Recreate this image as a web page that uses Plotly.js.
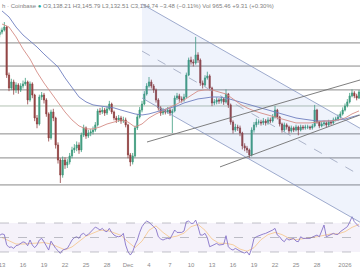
<!DOCTYPE html>
<html><head><meta charset="utf-8">
<script src="https://cdn.plot.ly/plotly-3.0.1.min.js"></script>
<style>html,body{margin:0;padding:0;background:#fff}#c{width:360px;height:270px}</style>
</head><body><div id="c"></div>
<script>
// 8-hour candles, first candle 2025-11-12 16:00 UTC
var firstOpen = 3460;
var closes = [3475,3486,3503,3231,3158,3192,3147,3175,3147,3169,3181,3192,3090,3181,3118,2988,2954,3107,3118,3090,3011,2875,3022,2988,2835,2750,2665,2750,2722,2739,2773,2807,2818,2835,2807,2892,2932,2886,2903,2909,2920,2949,3028,3022,3033,3016,3039,3067,3022,2988,2977,2988,2971,2977,2949,2779,2739,2773,2932,2994,3033,3067,3124,3169,3192,3169,3147,3090,3045,3016,3028,3022,3033,3016,3028,3101,3113,3096,3090,3107,3231,3316,3305,3299,3345,3316,3186,3175,3215,3226,3158,3073,3079,3090,3084,3096,3079,3124,3062,2965,2920,2937,2932,2903,2830,2818,2807,2779,2920,2949,2965,2965,2960,2971,2960,2977,2971,2994,3033,2994,2954,2920,2949,2937,2915,2932,2920,2937,2920,2937,2932,2937,2937,2932,2943,3033,2965,2943,2954,2960,2949,2965,2960,2977,2982,2994,3011,3033,3056,3079,3113,3130,3113,3101,3135];
var highs = [3495,3500,3531,3510,3245,3210,3205,3190,3185,3185,3200,3215,3200,3195,3190,3125,3005,3120,3135,3130,3100,3020,3035,3040,2995,2850,2760,2770,2765,2755,2790,2825,2840,2855,2850,2905,2950,2940,2920,2925,2940,2965,3040,3045,3050,3045,3055,3085,3075,3030,3000,3005,3000,2995,2990,2955,2790,2790,2945,3010,3050,3085,3140,3185,3220,3205,3180,3155,3100,3055,3045,3040,3050,3045,3040,3115,3130,3125,3110,3125,3245,3330,3335,3320,3447,3360,3325,3200,3230,3250,3235,3165,3095,3105,3100,3110,3105,3150,3130,3070,2975,2955,2950,2945,2910,2845,2830,2815,2935,2965,2985,2980,2978,2988,2982,2992,2990,3010,3056,3040,3000,2962,2962,2958,2945,2945,2940,2950,2945,2950,2948,2950,2950,2945,2955,3062,3040,2972,2968,2972,2968,2978,2975,2990,2995,3008,3025,3048,3070,3095,3130,3150,3140,3125,3146];
var lows = [3445,3462,3478,3215,3140,3145,3120,3130,3125,3135,3155,3170,3065,3080,3100,2970,2930,2945,3090,3070,2995,2855,2865,2970,2815,2730,2620,2650,2700,2705,2725,2760,2790,2800,2785,2795,2880,2870,2875,2885,2895,2910,2940,3005,3010,3000,3005,3030,3010,2975,2960,2965,2955,2960,2935,2760,2715,2725,2765,2920,2985,3020,3060,3115,3160,3155,3130,3075,3030,3000,3005,3008,3012,3000,2903,3020,3090,3080,3075,3080,3100,3225,3290,3280,3290,3300,3170,3155,3165,3205,3145,3055,3060,3065,3068,3070,3062,3070,3045,2950,2900,2910,2915,2885,2810,2800,2790,2762,2770,2905,2935,2950,2945,2948,2945,2950,2958,2962,2985,2980,2940,2905,2910,2922,2900,2905,2908,2912,2890,2912,2920,2922,2925,2920,2922,2935,2955,2930,2935,2942,2935,2940,2948,2952,2968,2972,2985,3002,3025,3048,3070,3105,3100,3088,3095];
var rsi = [53,55,54,40,36.4,37,35,38.7,39.6,42,44,43,38.7,46.5,39.6,36,39.6,46.5,48.8,44,38.7,32.7,45,39.6,35,31.8,28.1,32.7,33.6,35,40.5,46.5,49.7,51,48.8,54.3,55.7,52.5,54.3,58,61.7,64.4,62.6,60.3,62.6,58.9,58,62.6,57,53.4,51.6,51,52,55.7,39.6,30.4,25.8,30.4,39.6,46.5,57,64.9,69.5,72.7,71,67.2,64.9,61.7,51,48,46.5,48,48.8,48,53.4,60.3,57,56.6,57,58.9,71.8,72.7,69.5,69.5,74,64.9,53.4,53.4,55.7,49.7,37.3,38.7,40.5,41.9,39.6,39.6,40.5,52.5,37.3,34,32.7,35,32.7,31.3,29.5,28.6,30.4,25.8,35,48.8,51,52.5,53.4,54.8,55.7,57,58,60.3,62.6,53.4,51,46.5,44.2,48.8,46.5,47.4,48.8,45,44.2,51,48.8,48.8,48.8,48.8,50.6,52.5,53.4,51,58,67.2,51,52.5,53.4,55.7,54.3,54.3,58,60.3,62.6,64.9,71,78.7,71.8,68.3,64.9];
// daily samples from 2025-11-13
var maFast = [3520,3503,3447,3379,3322,3248,3186,3130,3079,3022,2977,2943,2926,2926,2937,2954,2965,2977,2965,2937,2954,2988,3011,3028,3050,3067,3090,3118,3141,3147,3147,3135,3124,3096,3067,3045,3028,3016,3005,2994,2982,2971,2960,2960,2960,2965,2971,2971,2977,2988,3011,3028];
var maSlow = [3594,3560,3503,3458,3424,3390,3350,3316,3277,3215,3158,3107,3079,3062,3056,3050,3045,3033,3022,3011,3005,3011,3022,3033,3045,3056,3073,3084,3096,3101,3107,3107,3101,3090,3079,3067,3056,3045,3033,3022,3011,2999,2988,2982,2977,2971,2971,2971,2977,2982,2994,3005];
var rsiMa = [50,45,41,41,42,42,43,41,37,33,37,45,52,56,60,60,57,53,44,36,45,60,66,57,50,52,56,65,68,60,48,42,42,40,34,31,36,47,54,57,54,49,47,48,49,51,53,55,55,58,64,68];
var levels = [3413,3282,3147,3056,2898,2762,2609];
var levelColors = ['#8a8a8a','#8a8a8a','#8a8a8a','#b3c2b3','#8a8a8a','#8a8a8a','#8a8a8a'];
var tickDates = ['2025-11-13','2025-11-16','2025-11-19','2025-11-22','2025-11-25','2025-11-28','2025-12-01','2025-12-04','2025-12-07','2025-12-10','2025-12-13','2025-12-16','2025-12-19','2025-12-22','2025-12-25','2025-12-28','2026-01-01'];
var tickText = ['13','16','19','22','25','28','Dec','4','7','10','13','16','19','22','25','28','2026'];
// drawings (date, price)
var chanDates = ['2025-12-03 00:00','2026-01-03 03:26'];
var chanUpper = [3633,2930];
var chanMid = [3367,2664];
var chanLower = [3101,2398];
var trendA = {d:['2025-12-03 17:09','2026-01-03 03:26'], p:[2852,3203]};
var trendB = {d:['2025-12-14 03:26','2026-01-03 03:26'], p:[2711,3005]};

function fmt(ms){var d=new Date(ms);function z(n){return (n<10?'0':'')+n;}
 return d.getUTCFullYear()+'-'+z(d.getUTCMonth()+1)+'-'+z(d.getUTCDate())+' '+z(d.getUTCHours())+':'+z(d.getUTCMinutes());}
var t0 = Date.UTC(2025,10,12,16);
var dates = closes.map(function(_,i){return fmt(t0+i*8*3600e3);});
var opens = closes.map(function(c,i){return i===0?firstOpen:closes[i-1];});
var d0 = Date.UTC(2025,10,13,0);
var days = maFast.map(function(_,k){return fmt(d0+k*86400e3);});

var traces = [
 {type:'scatter',x:[chanDates[0],chanDates[1],chanDates[1],chanDates[0]],y:[chanUpper[0],chanUpper[1],chanLower[1],chanLower[0]],fill:'toself',fillcolor:'rgba(80,120,220,0.09)',line:{width:0},mode:'lines',hoverinfo:'skip',xaxis:'x',yaxis:'y'},
 {type:'scatter',x:days,y:maSlow,mode:'lines',line:{color:'#6f7fc0',width:0.9},xaxis:'x',yaxis:'y'},
 {type:'scatter',x:days,y:maFast,mode:'lines',line:{color:'#d58c86',width:0.9},xaxis:'x',yaxis:'y'},
 {type:'candlestick',x:dates,open:opens,high:highs,low:lows,close:closes,xaxis:'x',yaxis:'y',
  increasing:{line:{color:'#3c9a7c',width:0.8},fillcolor:'#3c9a7c'},
  decreasing:{line:{color:'#8f3f3f',width:0.8},fillcolor:'#8f3f3f'},whiskerwidth:0},
 {type:'scatter',x:days,y:rsiMa,mode:'lines',line:{color:'rgba(245,190,120,0.7)',width:1},xaxis:'x',yaxis:'y2'},
 {type:'scatter',x:dates,y:rsi,mode:'lines',line:{color:'#8673c8',width:0.9},xaxis:'x',yaxis:'y2'}
];
var shapes = levels.map(function(p,i){return {type:'line',xref:'paper',x0:0,x1:1,yref:'y',y0:p,y1:p,line:{color:levelColors[i],width:1},layer:'below'};});
shapes.push({type:'rect',xref:'paper',x0:0,x1:1,yref:'y2',y0:30,y1:70,fillcolor:'rgba(126,87,194,0.08)',line:{width:0},layer:'below'});
[30,50,70].forEach(function(v){shapes.push({type:'line',xref:'paper',x0:0,x1:1,yref:'y2',y0:v,y1:v,line:{color:'rgba(120,123,134,0.45)',width:1,dash:'dash'}});});
shapes.push({type:'line',xref:'x',yref:'y',x0:chanDates[0],x1:chanDates[1],y0:chanUpper[0],y1:chanUpper[1],line:{color:'#8795c0',width:0.8}});
shapes.push({type:'line',xref:'x',yref:'y',x0:chanDates[0],x1:chanDates[1],y0:chanMid[0],y1:chanMid[1],line:{color:'#9aa3bd',width:0.8,dash:'dash'}});
shapes.push({type:'line',xref:'x',yref:'y',x0:chanDates[0],x1:chanDates[1],y0:chanLower[0],y1:chanLower[1],line:{color:'#8795c0',width:0.8}});
shapes.push({type:'line',xref:'x',yref:'y',x0:trendA.d[0],x1:trendA.d[1],y0:trendA.p[0],y1:trendA.p[1],line:{color:'#707070',width:0.9}});
shapes.push({type:'line',xref:'x',yref:'y',x0:trendB.d[0],x1:trendB.d[1],y0:trendB.p[0],y1:trendB.p[1],line:{color:'#707070',width:0.9}});

var layout = {
 width:360,height:270,margin:{l:0,r:0,t:0,b:10},paper_bgcolor:'#fff',plot_bgcolor:'#fff',showlegend:false,
 font:{family:'Liberation Sans, Arial, sans-serif',size:6,color:'#888'},
 xaxis:{type:'date',range:['2025-11-12 17:09','2026-01-03 03:26'],tickmode:'array',tickvals:tickDates,ticktext:tickText,
   showgrid:false,zeroline:false,showline:false,ticks:'',tickfont:{size:6,color:'#8a8a8a'},ticklabeloverflow:'allow',rangeslider:{visible:false},fixedrange:true},
 yaxis:{domain:[0,1],range:[2184,3656],visible:false,showgrid:false,zeroline:false,fixedrange:true},
 yaxis2:{domain:[0,1],overlaying:'y',range:[18.97,377.6],visible:false,showgrid:false,zeroline:false},
 shapes:shapes,
 annotations:[{xref:'paper',yref:'paper',x:0,y:0.997,xanchor:'left',yanchor:'top',showarrow:false,align:'left',
  font:{size:6,color:'#808080'},
  text:'h · Coinbase <span style="color:#26a69a">●</span> O3,138.21 H3,145.79 L3,132.51 C3,134.74 −3.48 (−0.11%) Vol 965.46 +9.31 (+0.30%)'}]
};
Plotly.newPlot('c',traces,layout,{displayModeBar:false,staticPlot:true});
</script></body></html>
